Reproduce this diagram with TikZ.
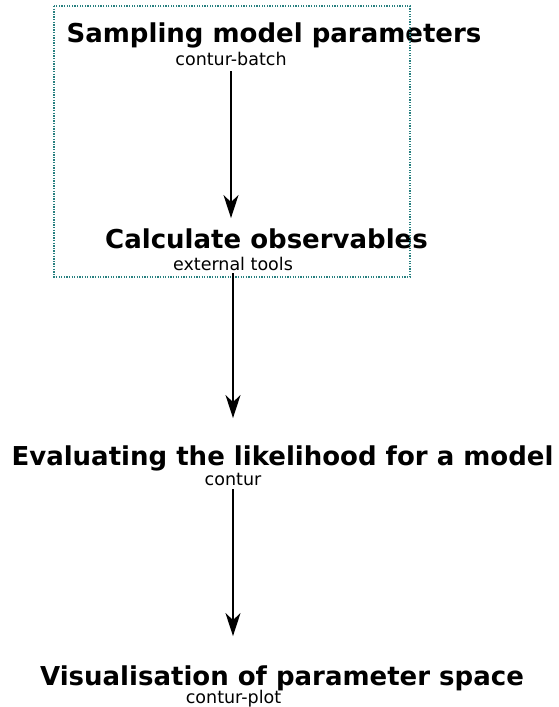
\documentclass[tikz,border=0pt]{standalone}
\usepackage{fontspec}
\setmainfont{DejaVu Sans}
\usepackage{xcolor}
\usepackage{tikz}
\usetikzlibrary{arrows.meta}

\definecolor{clustercol}{RGB}{40,128,128}

\begin{document}
\begin{tikzpicture}[x=1pt, y=-1pt,
        title/.style={anchor=base, inner sep=0pt, font=\fontsize{26}{28}\selectfont\bfseries},
        tool/.style={anchor=base, inner sep=0pt, font=\fontsize{17.5}{20}\selectfont},
        flow/.style={-{Stealth[length=23pt, width=15pt, inset=7pt]}, line width=1.4pt}]
        \useasboundingbox (0,0) rectangle (558,707);

        \node[title] (sample)     at (274,42)  {Sampling model parameters};
        \node[tool]  (sampletool) at (231,65)  {contur-batch};
        \node[title] (calc)       at (266.5,248) {Calculate observables};
        \node[tool]  (calctool)   at (233,270) {external tools};
        \node[title] (eval)       at (282.5,465) {Evaluating the likelihood for a model};
        \node[tool]  (evaltool)   at (233,485) {contur};
        \node[title] (vis)        at (282,685) {Visualisation of parameter space};
        \node[tool]  (vistool)    at (233.5,703) {contur-plot};

        \draw[clustercol, line width=1.3pt, dash pattern=on 1.3pt off 1.3pt] (54,6) rectangle (410,277);

        \path[flow]
        (sampletool.south) edge [shorten <=6pt, shorten >=10pt] (sampletool.south |- calc.north)
        (calctool.south) edge [shorten <=3pt, shorten >=27pt] (calctool.south |- eval.north)
        (evaltool.south) edge [shorten <=4pt, shorten >=29pt] (evaltool.south |- vis.north);
    \end{tikzpicture}
\end{document}
